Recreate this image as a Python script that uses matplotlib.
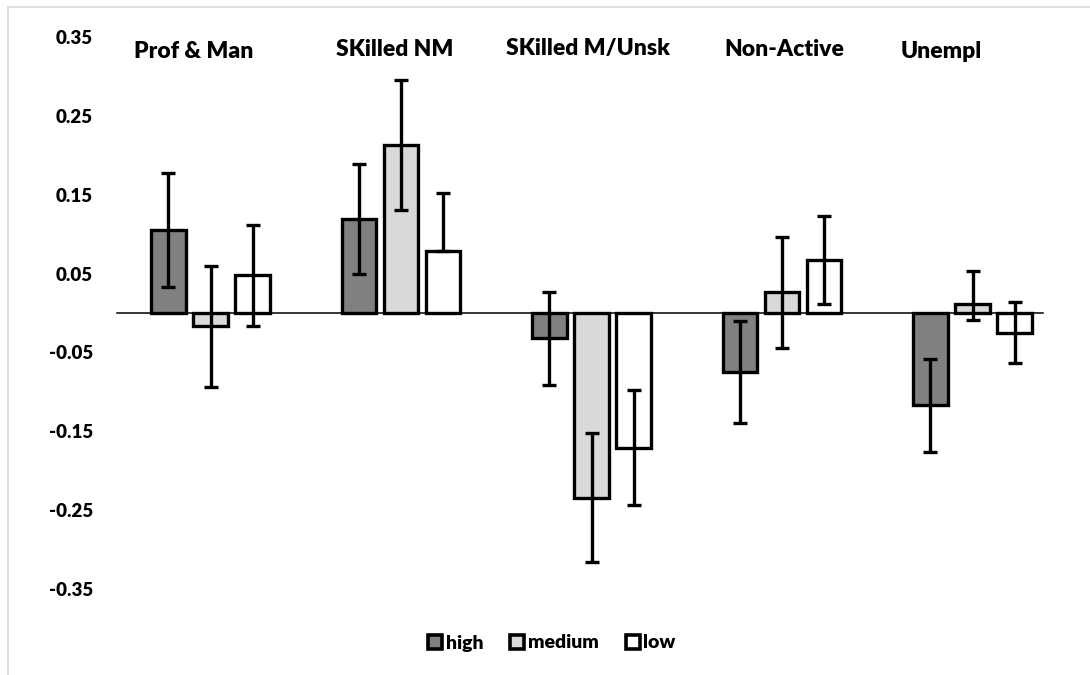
import matplotlib
matplotlib.use("Agg")
import matplotlib.pyplot as plt
from matplotlib.patches import Rectangle, Patch
import numpy as np

categories = ["Prof & Man", "SKilled NM", "SKilled M/Unsk", "Non-Active", "Unempl"]
series_names = ["high", "medium", "low"]
colors = ["#808080", "#d9d9d9", "#ffffff"]

high = [0.105, 0.119, -0.032, -0.075, -0.117]
high_err_lo = [0.072, 0.070, 0.059, 0.065, 0.059]
high_err_hi = [0.072, 0.070, 0.059, 0.065, 0.059]

medium = [-0.017, 0.213, -0.234, 0.026, 0.011]
medium_err_lo = [0.077, 0.083, 0.082, 0.071, 0.020]
medium_err_hi = [0.077, 0.083, 0.082, 0.071, 0.042]

low = [0.048, 0.079, -0.171, 0.067, -0.025]
low_err_lo = [0.064, 0.0, 0.073, 0.056, 0.039]
low_err_hi = [0.064, 0.073, 0.073, 0.056, 0.039]

yticks = [0.35, 0.25, 0.15, 0.05, -0.05, -0.15, -0.25, -0.35]

values = [high, medium, low]
errs_lo = [high_err_lo, medium_err_lo, low_err_lo]
errs_hi = [high_err_hi, medium_err_hi, low_err_hi]

plt.rcParams['font.family'] = ['Lato', 'DejaVu Sans']
WEIGHT = "heavy"

fig = plt.figure(figsize=(10.9, 6.75), dpi=100)
W, H = 1090, 675
ax = fig.add_axes([115.25 / W, 86 / H, 952.5 / W, 552 / H])

x = np.arange(len(categories))
bw = 0.181
off = 0.2205
for i, (vals, lo, hi, c, name) in enumerate(zip(values, errs_lo, errs_hi, colors, series_names)):
    pos = x + (i - 1) * off
    ax.bar(pos, vals, width=bw, color=c, edgecolor="black", linewidth=2.4,
           label=name, zorder=3)
    ax.errorbar(pos, vals, yerr=[lo, hi], fmt="none", ecolor="black",
                elinewidth=2.4, capsize=5, capthick=2.4, zorder=4)

# zero line
x0 = (117 - 210.5) / 190.5
x1 = (1043 - 210.5) / 190.5
ax.plot([x0, x1], [0, 0], color="black", linewidth=1.1, zorder=2)

ax.set_xlim(-0.5, 4.5)
ax.set_ylim(-0.35, 0.35)
ax.set_yticks(yticks)
ax.set_yticklabels([f"{t:.2f}" for t in yticks], fontsize=13.5, fontweight=WEIGHT)
ax.tick_params(axis="y", length=0, pad=16)
ax.set_xticks([])
for s in ax.spines.values():
    s.set_visible(False)

# category labels at top
label_x = [194, 395, 588, 784, 941]
label_y = [52, 49, 49, 49, 52]
for cat, px, py in zip(categories, label_x, label_y):
    fig.text(px / W, 1 - py / H, cat, ha="center", va="center",
             fontsize=16.5, fontweight=WEIGHT)

handles = [Patch(facecolor=c, edgecolor="black", linewidth=2.6) for c in colors]
leg = fig.legend(handles, series_names, loc="center", bbox_to_anchor=(552 / W, 1 - 643 / H),
                 ncol=3, frameon=False, handlelength=0.7, handleheight=0.7,
                 handletextpad=0.2, columnspacing=1.4,
                 prop={"size": 14, "weight": WEIGHT})

# outer frame
fig.patches.append(Rectangle((8 / W, -0.1), 1.2, 1 - 7 / H + 0.1, transform=fig.transFigure,
                             fill=False, edgecolor="#d9d9d9", linewidth=1.2))

fig.savefig("out.png", dpi=100)
